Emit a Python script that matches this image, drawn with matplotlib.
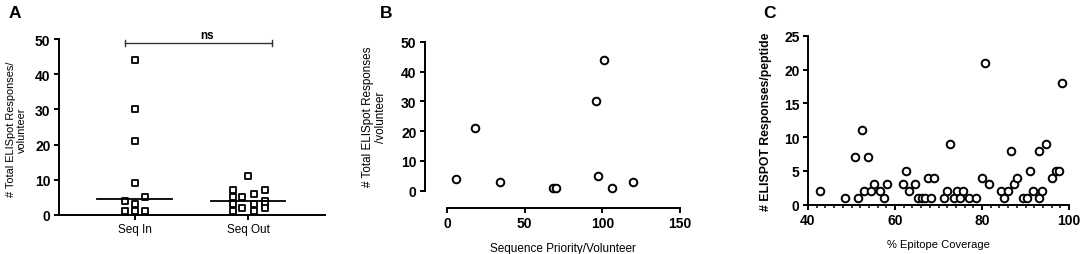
import matplotlib
matplotlib.use("Agg")
import matplotlib.pyplot as plt
from matplotlib.ticker import MultipleLocator

plt.rcParams["font.family"] = ["Liberation Sans", "DejaVu Sans"]

# panel A: responses per volunteer, grouped
GROUPS = ["Seq In", "Seq Out"]
SEQ_IN = [44, 30, 21, 9, 4, 5, 3, 1, 1, 1]
SEQ_OUT = [11, 7, 5, 3, 1, 5, 2, 6, 3, 1, 7, 4, 3, 2]
MEDIANS = [4.5, 4.0]

# panel B: sequence priority vs responses
PRIORITY = [6, 18, 34, 68, 70, 96, 97, 101, 106, 120]
PRIORITY_RESP = [4, 21, 3, 1, 1, 30, 5, 44, 1, 3]

# panel C: epitope coverage vs responses per peptide
COVERAGE = [42.8, 48.6, 50.8, 51.6, 52.3, 52.9, 53.8, 54.5, 55.1, 56.6, 57.4, 58.2,
            61.8, 62.6, 63.2, 64.7, 65.4, 66.1, 66.8, 67.5, 68.3, 69.0, 71.3, 72.0,
            72.7, 73.5, 74.2, 74.9, 75.7, 77.1, 78.6, 79.9, 80.8, 81.5, 84.4, 85.1,
            86.0, 86.7, 87.4, 88.1, 89.5, 90.3, 91.1, 91.7, 93.2, 93.2, 93.9, 94.7,
            96.1, 96.9, 97.7, 98.4]
PEPTIDE_RESP = [2, 1, 7, 1, 11, 2, 7, 2, 3, 2, 1, 3,
                3, 5, 2, 3, 1, 1, 1, 4, 1, 4, 1, 2,
                9, 1, 2, 1, 2, 1, 1, 4, 21, 3, 2, 1,
                2, 8, 3, 4, 1, 1, 5, 2, 8, 1, 2, 9,
                4, 5, 5, 18]

# scatter columns used by the dot plot (style only)
SEQ_IN_JITTER = [0, 0, 0, 0, -0.09, 0.09, 0, -0.09, 0, 0.09]
SEQ_OUT_JITTER = [0, -0.137, -0.137, -0.137, -0.137, -0.049, -0.049,
                  0.049, 0.049, 0.049, 0.146, 0.146, 0.146, 0.146]

W, H = 1084, 255
LW = 1.4
TICK_SIZE = 10


def px_axes(fig, left, right, top, bottom):
    return fig.add_axes([left / W, (H - bottom) / H, (right - left) / W, (bottom - top) / H])


def style_axes(ax, bold_x=True):
    for side in ("top", "right"):
        ax.spines[side].set_visible(False)
    for side in ("left", "bottom"):
        ax.spines[side].set_linewidth(LW)
    ax.tick_params(which="major", length=3.6, width=LW, direction="out", pad=2.5)
    ax.tick_params(which="minor", length=2.0, width=1.1, direction="out")
    labels = ax.get_yticklabels()
    if bold_x:
        labels += ax.get_xticklabels()
    for lab in labels:
        lab.set_fontsize(TICK_SIZE)
        lab.set_fontweight("bold")


fig = plt.figure(figsize=(W / 100, H / 100), dpi=100)

# ---- A
ax = px_axes(fig, 59, 325, 40, 216)
x_in = [0 + j for j in SEQ_IN_JITTER]
x_out = [1 + j for j in SEQ_OUT_JITTER]
for xs, ys in ((x_in, SEQ_IN), (x_out, SEQ_OUT)):
    ax.scatter(xs, ys, marker="s", s=18, facecolor="white", edgecolor="black",
               linewidth=1.3, zorder=3, clip_on=False)
for i, m in enumerate(MEDIANS):
    ax.plot([i - 0.33, i + 0.33], [m, m], color="black", lw=1.3, zorder=4)
ax.set_xlim(-0.67, 1.68)
ax.set_ylim(0, 50)
ax.yaxis.set_major_locator(MultipleLocator(10))
ax.set_xticks([0, 1])
ax.set_xticklabels(GROUPS, fontsize=8.5)
style_axes(ax, bold_x=False)
ax.set_ylabel("# Total ELISpot Responses/\nvolunteer", fontsize=7.9, linespacing=1.1)
ax.yaxis.set_label_coords(-0.12, 0.49)
# significance bracket
bx0, bx1, by = -0.09, 1.21, 48.9
ax.plot([bx0, bx1], [by, by], color="#333333", lw=1.0, clip_on=False)
ax.plot([bx0, bx0], [by - 0.9, by + 0.9], color="#333333", lw=1.0, clip_on=False)
ax.plot([bx1, bx1], [by - 0.9, by + 0.9], color="#333333", lw=1.0, clip_on=False)
ax.text(0.64, by + 0.4, "ns", ha="center", va="bottom", fontsize=8.5, fontweight="bold")

# ---- B
ax = px_axes(fig, 425, 681.6, 42.7, 209)
ax.scatter(PRIORITY, PRIORITY_RESP, marker="o", s=30, facecolor="white",
           edgecolor="black", linewidth=1.4, zorder=3)
ax.set_xlim(-14.2, 151)
ax.set_ylim(-5.8, 50)
ax.spines["left"].set_bounds(0, 50)
ax.spines["bottom"].set_bounds(0, 150)
ax.set_xticks([0, 50, 100, 150])
ax.set_yticks([0, 10, 20, 30, 40, 50])
style_axes(ax)
ax.set_xlabel("Sequence Priority/Volunteer", fontsize=8.5)
ax.xaxis.set_label_coords(0.538, -0.205)
ax.set_ylabel("# Total ELISpot Responses\n/volunteer", fontsize=8.4, linespacing=1.1)
ax.yaxis.set_label_coords(-0.148, 0.553)

# ---- C
ax = px_axes(fig, 808, 1069, 36.7, 205.7)
ax.scatter(COVERAGE, PEPTIDE_RESP, marker="o", s=30, facecolor="white",
           edgecolor="black", linewidth=1.4, zorder=3, clip_on=False)
ax.set_xlim(40, 100)
ax.set_ylim(0, 25)
ax.xaxis.set_major_locator(MultipleLocator(20))
ax.xaxis.set_minor_locator(MultipleLocator(2))
ax.yaxis.set_major_locator(MultipleLocator(5))
style_axes(ax)
ax.set_xlabel("% Epitope Coverage", fontsize=8.0)
ax.xaxis.set_label_coords(0.498, -0.203)
ax.set_ylabel("# ELISPOT Responses/peptide", fontsize=8.8, fontweight="bold")
ax.yaxis.set_label_coords(-0.138, 0.495)

# panel letters
for x, y, letter in ((15, 14, "A"), (386, 14, "B"), (769, 13, "C")):
    fig.text(x / W, 1 - y / H, letter, ha="center", va="center",
             fontsize=12.5, fontweight="bold")

fig.savefig("out.png", dpi=100)
